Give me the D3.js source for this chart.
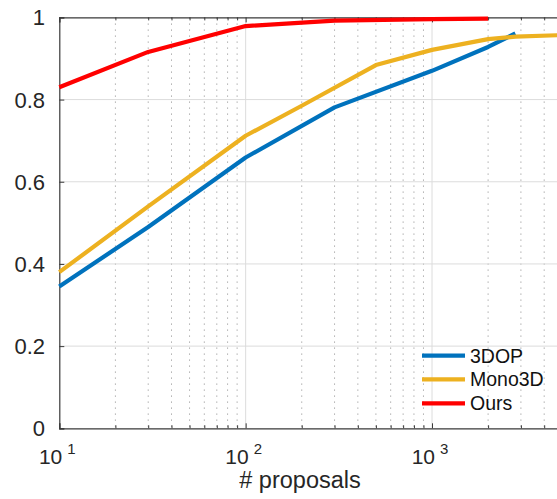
<!DOCTYPE html>
<html>
<head>
<meta charset="utf-8">
<script src="https://cdn.jsdelivr.net/npm/d3@7"></script>
<style>
  html, body { margin: 0; padding: 0; background: #fff; }
  svg { display: block; font-family: "Liberation Sans", Arial, Helvetica, sans-serif; }
</style>
</head>
<body>
<svg id="chart" width="557" height="499"></svg>
<script>
// ---- Data ----
const seriesNames = ["3DOP", "Mono3D", "Ours"];
const dop3dX = [10, 30, 100, 300, 1000, 2000, 2800];
const dop3dY = [0.345, 0.49, 0.659, 0.781, 0.870, 0.928, 0.961];
const mono3dX = [10, 30, 100, 200, 500, 1000, 2000, 2800, 5000];
const mono3dY = [0.380, 0.540, 0.712, 0.785, 0.884, 0.921, 0.947, 0.953, 0.957];
const oursX = [10, 30, 100, 300, 1000, 2000];
const oursY = [0.830, 0.916, 0.979, 0.992, 0.996, 0.997];
const xMajorTicks = [10, 100, 1000];
const xMinorTicks = [20, 30, 40, 50, 60, 70, 80, 90, 200, 300, 400, 500, 600, 700, 800, 900, 2000, 3000, 4000, 5000];
const yTicks = [0, 0.2, 0.4, 0.6, 0.8, 1];
const yTickLabels = ["0", "0.2", "0.4", "0.6", "0.8", "1"];
const xLabel = "# proposals";
const colors = ["#0072BD", "#EDB120", "#FF0000"];

// ---- Layout ----
const svg = d3.select("#chart");
const pLeft = 59.3, pTop = 17.4, pBottom = 428.3;
const decade = 186.35;
const x = d3.scaleLog().domain([10, 5000]).range([pLeft, pLeft + Math.log10(500) * decade]);
const y = d3.scaleLinear().domain([0, 1]).range([pBottom, pTop]);
const pRight = x(5000);

const g = svg.append("g");

// minor dotted grid (vertical)
g.selectAll(".minorgrid").data(xMinorTicks).enter().append("line")
  .attr("x1", d => x(d)).attr("x2", d => x(d))
  .attr("y1", pTop).attr("y2", pBottom)
  .attr("stroke", "#b0b0b0").attr("stroke-width", 1)
  .attr("stroke-dasharray", "1.5,4.5");

// major grid
g.selectAll(".xgrid").data(xMajorTicks.slice(1)).enter().append("line")
  .attr("x1", d => x(d)).attr("x2", d => x(d))
  .attr("y1", pTop).attr("y2", pBottom)
  .attr("stroke", "#dcdcdc").attr("stroke-width", 1);
g.selectAll(".ygrid").data(yTicks.slice(1, -1)).enter().append("line")
  .attr("x1", pLeft).attr("x2", pRight)
  .attr("y1", d => y(d)).attr("y2", d => y(d))
  .attr("stroke", "#dcdcdc").attr("stroke-width", 1);

// axes (MATLAB-style inward ticks, box on)
const axBottom = d3.axisBottom(x).tickValues(xMajorTicks).tickSize(-5).tickFormat("");
const axBottomMinor = d3.axisBottom(x).tickValues(xMinorTicks).tickSize(-3).tickFormat("");
const axTop = d3.axisTop(x).tickValues(xMajorTicks).tickSize(-5).tickFormat("");
const axTopMinor = d3.axisTop(x).tickValues(xMinorTicks).tickSize(-3).tickFormat("");
const axLeft = d3.axisLeft(y).tickValues(yTicks).tickSize(-5).tickFormat("");

function styleAxis(sel) {
  sel.selectAll("path").attr("stroke", "#3a3a3a").attr("stroke-width", 1.2);
  sel.selectAll("line").attr("stroke", "#3a3a3a").attr("stroke-width", 1);
}
g.append("g").attr("transform", `translate(0,${pBottom})`).call(axBottom).call(styleAxis);
g.append("g").attr("transform", `translate(0,${pBottom})`).call(axBottomMinor).call(styleAxis).select("path").remove();
g.append("g").attr("transform", `translate(0,${pTop})`).call(axTop).call(styleAxis);
g.append("g").attr("transform", `translate(0,${pTop})`).call(axTopMinor).call(styleAxis).select("path").remove();
g.append("g").attr("transform", `translate(${pLeft},0)`).call(axLeft).call(styleAxis);

// y tick labels
g.selectAll(".ylab").data(yTicks).enter().append("text")
  .attr("x", 45).attr("y", d => y(d) + 8)
  .attr("text-anchor", "end")
  .attr("font-size", 22).attr("fill", "#262626")
  .text((d, i) => yTickLabels[i]);

// x tick labels: 10^n
xMajorTicks.forEach(v => {
  const t = g.append("text")
    .attr("x", x(v) - 2).attr("y", 464)
    .attr("text-anchor", "middle")
    .attr("font-size", 21).attr("fill", "#262626");
  t.append("tspan").text("10");
  t.append("tspan").attr("dx", 5).attr("dy", -10).attr("font-size", 15).text(String(Math.round(Math.log10(v))));
});

// x axis label
g.append("text")
  .attr("x", 300).attr("y", 488)
  .attr("text-anchor", "middle")
  .attr("font-size", 23.5).attr("fill", "#262626")
  .text(xLabel);

// lines
const line = d3.line().x(d => x(d[0])).y(d => y(d[1]));
const seriesData = [
  d3.zip(dop3dX, dop3dY),
  d3.zip(mono3dX, mono3dY),
  d3.zip(oursX, oursY)
];
g.selectAll(".series").data(seriesData).enter().append("path")
  .attr("d", d => line(d))
  .attr("fill", "none")
  .attr("stroke", (d, i) => colors[i])
  .attr("stroke-width", 4.2)
  .attr("stroke-linejoin", "round");

// legend
const legY = [355.7, 379.3, 403.3];
const leg = g.selectAll(".leg").data(seriesNames).enter().append("g");
leg.append("line")
  .attr("x1", 422).attr("x2", 465)
  .attr("y1", (d, i) => legY[i]).attr("y2", (d, i) => legY[i])
  .attr("stroke", (d, i) => colors[i]).attr("stroke-width", 4.2);
leg.append("text")
  .attr("x", 470).attr("y", (d, i) => legY[i] + 7)
  .attr("font-size", 19.5).attr("fill", "#111")
  .text(d => d);
</script>
</body>
</html>
